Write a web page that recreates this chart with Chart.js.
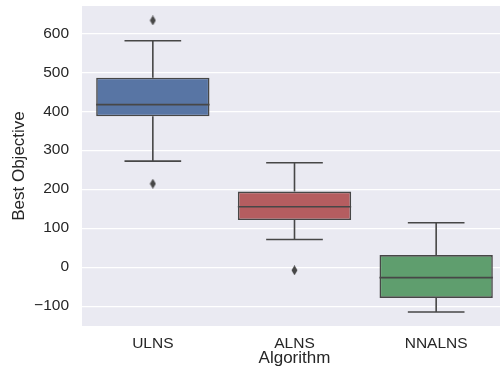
<!DOCTYPE html>
<html>
<head>
<meta charset="utf-8">
<script src="https://cdn.jsdelivr.net/npm/chart.js@4.4.0/dist/chart.umd.min.js"></script>
<style>
  html, body { margin: 0; padding: 0; background: #fff; }
  #wrap { width: 500px; height: 374px; overflow: hidden; }
</style>
</head>
<body>
<div id="wrap"><canvas id="grafico" width="513" height="374"></canvas></div>
<script>
// valores
const algoritmos = ["ULNS", "ALNS", "NNALNS"];
const quartil1 = [387, 121, -79];
const mediana = [417, 155, -27];
const quartil3 = [486, 194, 31];
const bigodeInf = [272, 71, -115];
const bigodeSup = [581, 268, 114];
const outliersAlgo = ["ULNS", "ULNS", "ALNS"];
const outliersValor = [633, 214, -8];
const ticksY = [-100, 0, 100, 200, 300, 400, 500, 600];

const cores = ["#5875a4", "#b55d60", "#5f9e6e"];
const cinza = "#474747";

// losango fino como o marcador "d" do matplotlib
function criaLosango() {
  const c = document.createElement("canvas");
  c.width = 7;
  c.height = 10;
  const ctx = c.getContext("2d");
  ctx.fillStyle = cinza;
  ctx.beginPath();
  ctx.moveTo(3.5, 0);
  ctx.lineTo(6.5, 5);
  ctx.lineTo(3.5, 10);
  ctx.lineTo(0.5, 5);
  ctx.closePath();
  ctx.fill();
  return c;
}

const fundo = {
  id: "fundo",
  beforeDraw(chart) {
    const { ctx, chartArea } = chart;
    ctx.save();
    ctx.fillStyle = "#eaeaf2";
    ctx.fillRect(chartArea.left, chartArea.top, chartArea.width, chartArea.height);
    ctx.restore();
  },
};

// bigodes, tampas e medianas desenhados pelas escalas
const bigodes = {
  id: "bigodes",
  afterDatasetsDraw(chart) {
    const { ctx } = chart;
    const x = chart.scales.x;
    const y = chart.scales.y;
    const passo = x.getPixelForValue(1) - x.getPixelForValue(0);
    const meiaCaixa = passo * 0.4;
    const meiaTampa = passo * 0.2;
    ctx.save();
    ctx.strokeStyle = cinza;
    ctx.lineWidth = 1.6;
    algoritmos.forEach((_, i) => {
      const cx = x.getPixelForValue(i);
      ctx.beginPath();
      ctx.moveTo(cx, y.getPixelForValue(quartil3[i]));
      ctx.lineTo(cx, y.getPixelForValue(bigodeSup[i]));
      ctx.moveTo(cx, y.getPixelForValue(quartil1[i]));
      ctx.lineTo(cx, y.getPixelForValue(bigodeInf[i]));
      ctx.moveTo(cx - meiaTampa, y.getPixelForValue(bigodeSup[i]));
      ctx.lineTo(cx + meiaTampa, y.getPixelForValue(bigodeSup[i]));
      ctx.moveTo(cx - meiaTampa, y.getPixelForValue(bigodeInf[i]));
      ctx.lineTo(cx + meiaTampa, y.getPixelForValue(bigodeInf[i]));
      ctx.moveTo(cx - meiaCaixa, y.getPixelForValue(mediana[i]));
      ctx.lineTo(cx + meiaCaixa, y.getPixelForValue(mediana[i]));
      ctx.stroke();
    });
    ctx.restore();
  },
};

const fonte = "'Liberation Sans', Arial, sans-serif";

const grafico = new Chart(document.getElementById("grafico"), {
  data: {
    labels: algoritmos,
    datasets: [
      {
        type: "bar",
        label: "caixas",
        data: algoritmos.map((_, i) => [quartil1[i], quartil3[i]]),
        backgroundColor: cores,
        borderColor: cinza,
        borderWidth: 1.6,
        borderSkipped: false,
        barPercentage: 0.8,
        categoryPercentage: 1.0,
      },
      {
        type: "line",
        label: "outliers",
        data: outliersAlgo.map((a, i) => ({ x: a, y: outliersValor[i] })),
        showLine: false,
        pointStyle: criaLosango(),
        pointRadius: 5,
      },
    ],
  },
  options: {
    responsive: false,
    animation: false,
    layout: { padding: { top: 6, right: 0, left: 0, bottom: 0 } },
    plugins: {
      legend: { display: false },
      tooltip: { enabled: false },
    },
    scales: {
      x: {
        type: "category",
        grid: { display: false, drawTicks: false },
        border: { display: false },
        ticks: { color: "#262626", font: { family: fonte, size: 15.5 }, padding: 8 },
        title: {
          display: true,
          text: "Algorithm",
          color: "#262626",
          font: { family: fonte, size: 17 },
          padding: { top: 0, bottom: 5 },
        },
        afterFit(scale) {
          scale.height = 48;
          scale.paddingLeft = 0;
          scale.paddingRight = 0;
        },
      },
      y: {
        min: -151,
        max: 670,
        afterBuildTicks(scale) {
          scale.ticks = ticksY.map((v) => ({ value: v }));
        },
        grid: { color: "#ffffff", lineWidth: 1.2, drawTicks: false },
        border: { display: false },
        ticks: {
          color: "#262626",
          font: { family: fonte, size: 15.5 },
          padding: 13,
          callback: (v) => (v < 0 ? "\u2212" + Math.abs(v) : String(v)),
        },
        title: {
          display: true,
          text: "Best Objective",
          color: "#262626",
          font: { family: fonte, size: 17 },
          padding: { top: 9, bottom: 0 },
        },
        afterFit(scale) {
          scale.width = 82;
          scale.paddingTop = 0;
          scale.paddingBottom = 0;
        },
      },
    },
  },
  plugins: [fundo, bigodes],
});
</script>
</body>
</html>
